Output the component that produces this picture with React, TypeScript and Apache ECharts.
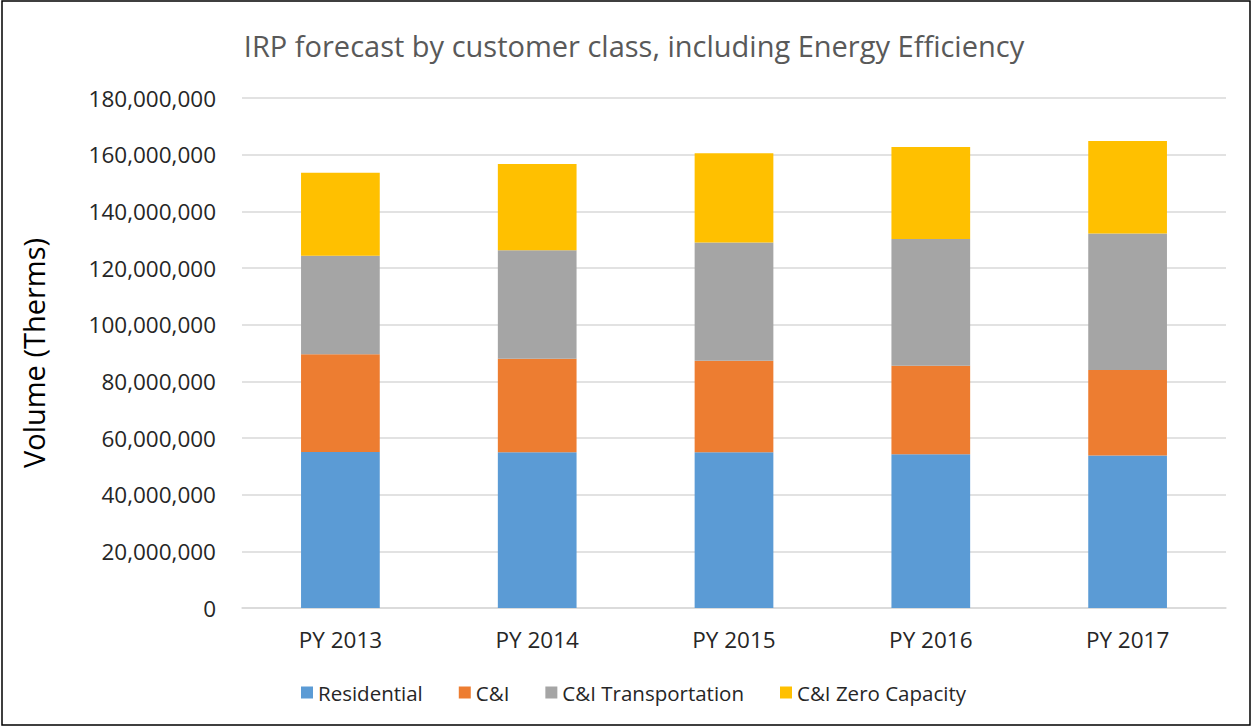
import React, { useEffect, useRef } from "react";
import * as echarts from "echarts";

const categories = ["PY 2013", "PY 2014", "PY 2015", "PY 2016", "PY 2017"];
const residential = [55100000, 55000000, 55000000, 54300000, 53800000];
const cni = [34500000, 33000000, 32300000, 31200000, 30200000];
const cniTransportation = [34700000, 38300000, 41700000, 44700000, 48200000];
const cniZeroCapacity = [29300000, 30400000, 31500000, 32500000, 32600000];

const FONT = "'Open Sans', sans-serif";

export default function App() {
  const ref = useRef<HTMLDivElement>(null);
  useEffect(() => {
    if (!ref.current) return;
    const chart = echarts.init(ref.current, null, { renderer: "svg" });
    const mk = (name: string, data: number[], color: string) => ({
      name,
      type: "bar",
      stack: "total",
      data,
      barWidth: "40%",
      itemStyle: { color },
    });
    chart.setOption({
      animation: false,
      backgroundColor: "#ffffff",
      title: {
        text: "IRP forecast by customer class, including Energy Efficiency",
        left: 629,
        top: 26,
        textAlign: "center",
        textStyle: { color: "#595959", fontSize: 29, fontWeight: "normal", fontFamily: FONT },
      },
      legend: {
        bottom: 18,
        left: 296,
        itemWidth: 12,
        itemHeight: 12,
        itemGap: 36,
        icon: "rect",
        textStyle: { color: "#262626", fontSize: 20.5, fontFamily: FONT },
        data: ["Residential", "C&I", "C&I Transportation", "C&I Zero Capacity"],
      },
      grid: { left: 242, right: 25, top: 98, bottom: 118, containLabel: false },
      xAxis: {
        type: "category",
        data: categories,
        axisTick: { show: false },
        axisLine: { lineStyle: { color: "#d9d9d9", width: 1.5 } },
        axisLabel: { color: "#262626", fontSize: 22.5, fontFamily: FONT, margin: 20 },
      },
      yAxis: {
        type: "value",
        min: 0,
        max: 180000000,
        interval: 20000000,
        name: "Volume (Therms)",
        nameLocation: "middle",
        nameGap: 194,
        nameTextStyle: { color: "#000", fontSize: 29, fontFamily: FONT },
        axisLine: { show: false },
        axisTick: { show: false },
        splitLine: { lineStyle: { color: "#d9d9d9", width: 1.5 } },
        axisLabel: {
          color: "#262626",
          fontSize: 22.5,
          fontFamily: FONT,
          margin: 26,
          formatter: (v: number) => v.toLocaleString("en-US"),
        },
      },
      graphic: [
        {
          type: "rect",
          shape: { x: 2, y: 1, width: 1248, height: 724 },
          style: { fill: "none", stroke: "#000", lineWidth: 1.5 },
          silent: true,
        },
      ],
      series: [
        mk("Residential", residential, "#5B9BD5"),
        mk("C&I", cni, "#ED7D31"),
        mk("C&I Transportation", cniTransportation, "#A5A5A5"),
        mk("C&I Zero Capacity", cniZeroCapacity, "#FFC000"),
      ],
    });
    return () => chart.dispose();
  }, []);
  return (
    <div
      ref={ref}
      style={{ position: "fixed", left: 0, top: 0, width: 1251, height: 726 }}
    />
  );
}
